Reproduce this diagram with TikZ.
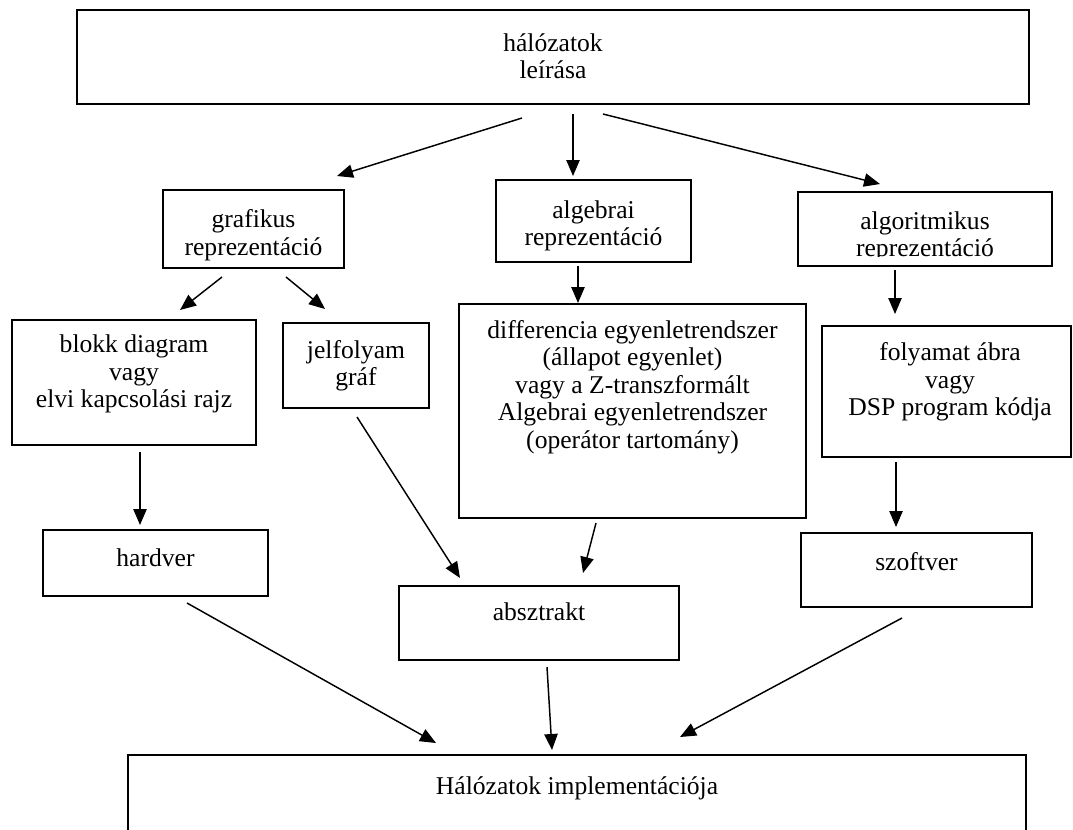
\documentclass[tikz,border=0pt]{standalone}
\usepackage{fontspec}
\setmainfont{Liberation Serif}
\usetikzlibrary{arrows.meta,fit}
\begin{document}
\begin{tikzpicture}[x=0.75pt,y=-0.75pt,
  box/.style={draw=black, line width=1.2pt, inner sep=0pt},
  txt/.style={font=\fontsize{19.2}{20.6}\selectfont, align=center, inner sep=0pt},
  arr/.style={-{Triangle[length=12pt,width=10pt]}, line width=1.1pt}]
\clip (0,0) rectangle (1073,829);
\fill[white] (0,0) rectangle (1073,829);
% boxes
\node[box, fit={(77,10) (1029,104)}] (btop) {};
\node[box, fit={(163,190) (344,268)}] (bgraf) {};
\node[box, fit={(496,180) (691,262)}] (balg) {};
\node[box, fit={(798,192) (1052,266)}] (balgo) {};
\node[box, fit={(12,320) (256,445)}] (bblokk) {};
\node[box, fit={(283,323) (429,408)}] (bjel) {};
\node[box, fit={(459,304) (806,518)}] (bdiff) {};
\node[box, fit={(822,326) (1071,457)}] (bfoly) {};
\node[box, fit={(43,530) (268,596)}] (bhard) {};
\node[box, fit={(399,586) (679,660)}] (babs) {};
\node[box, fit={(801,533) (1032,607)}] (bszoft) {};
\node[box, fit={(128,755) (1026,900)}] (bimpl) {};
% texts
\node[txt] (ttop) at (553,56) {hálózatok\\leírása};
\node[txt] (tgraf) at (253.5,235) {grafikus\\reprezentáció};
\node[txt] (talg) at (593.5,226) {algebrai\\reprezentáció};
\begin{scope}
\clip (799,193) rectangle (1051,256);
\node[txt] (talgo) at (925,236.8) {algoritmikus\\reprezentáció};
\end{scope}
\node[txt] (tblokk) at (134,374) {blokk diagram\\vagy\\elvi kapcsolási rajz};
\node[txt] (tjel) at (356,366) {jelfolyam\\gráf};
\node[txt] (tdiff) at (632.5,387) {differencia egyenletrendszer\\(állapot egyenlet)\\vagy a Z-transzformált\\Algebrai egyenletrendszer\\(operátor tartomány)};
\node[txt] (tfoly) at (950,382) {folyamat ábra\\vagy\\DSP program kódja};
\node[txt] (thard) at (155.5,558) {hardver};
\node[txt] (tabs) at (539,612) {absztrakt};
\node[txt] (tszoft) at (916.5,562) {szoftver};
\node[txt] (timpl) at (577,788) {Hálózatok implementációja};
% connector end points
\coordinate (a1s) at (522,118); \coordinate (a1e) at (337,176);
\coordinate (a2s) at (573,114); \coordinate (a2e) at (573,176);
\coordinate (a3s) at (603,114); \coordinate (a3e) at (880,184);
\coordinate (a4s) at (222,277); \coordinate (a4e) at (180,310);
\coordinate (a5s) at (286,277); \coordinate (a5e) at (325,309);
\coordinate (a6s) at (578,266); \coordinate (a6e) at (578,303);
\coordinate (a7s) at (895,270); \coordinate (a7e) at (895,314);
\coordinate (a8s) at (140,452); \coordinate (a8e) at (140,525);
\coordinate (a9s) at (357,417); \coordinate (a9e) at (460,578);
\coordinate (a10s) at (596,523); \coordinate (a10e) at (583,573);
\coordinate (a11s) at (896,462); \coordinate (a11e) at (896,527);
\coordinate (a12s) at (187,603); \coordinate (a12e) at (436,743);
\coordinate (a13s) at (547,667); \coordinate (a13e) at (552,750);
\coordinate (a14s) at (902,618); \coordinate (a14e) at (680,737);
% connectors
\draw[arr] (a1s) -- (a1e);
\draw[arr] (a2s) -- (a2e);
\draw[arr] (a3s) -- (a3e);
\draw[arr] (a4s) -- (a4e);
\draw[arr] (a5s) -- (a5e);
\draw[arr] (a6s) -- (a6e);
\draw[arr] (a7s) -- (a7e);
\draw[arr] (a8s) -- (a8e);
\draw[arr] (a9s) -- (a9e);
\draw[arr] (a10s) -- (a10e);
\draw[arr] (a11s) -- (a11e);
\draw[arr] (a12s) -- (a12e);
\draw[arr] (a13s) -- (a13e);
\draw[arr] (a14s) -- (a14e);
\end{tikzpicture}
\end{document}
